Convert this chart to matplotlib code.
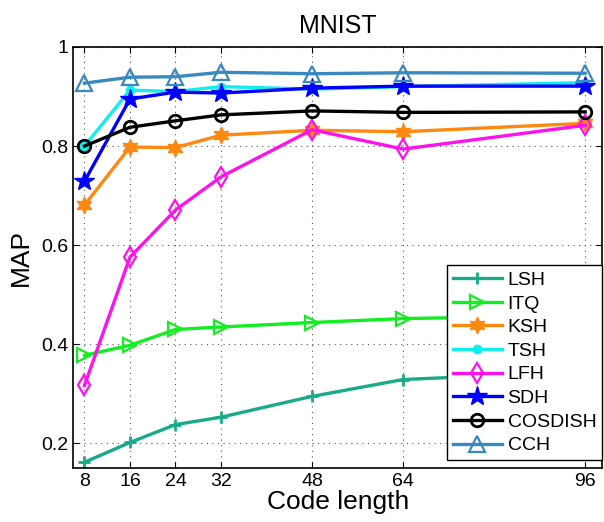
import numpy as np
import matplotlib.pyplot as plt

plt.rcParams['font.family'] = ['Liberation Sans', 'DejaVu Sans']

code_len = [8, 16, 24, 32, 48, 64, 96]
lsh = [0.162, 0.202, 0.238, 0.253, 0.295, 0.329, 0.345]
itq = [0.378, 0.398, 0.430, 0.435, 0.444, 0.452, 0.458]
ksh = [0.681, 0.798, 0.797, 0.822, 0.832, 0.829, 0.846]
tsh = [0.800, 0.913, 0.910, 0.920, 0.915, 0.920, 0.928]
lfh = [0.317, 0.576, 0.671, 0.738, 0.833, 0.794, 0.842]
sdh = [0.729, 0.895, 0.909, 0.907, 0.917, 0.921, 0.921]
cosdish = [0.800, 0.838, 0.851, 0.863, 0.871, 0.868, 0.869]
cch = [0.927, 0.939, 0.940, 0.949, 0.946, 0.948, 0.947]

fig = plt.figure(figsize=(6.04, 5.22), dpi=100)
ax = fig.add_axes([0.121, 0.103, 0.876, 0.807])

lw = 2.4
ax.plot(code_len, lsh, color='#19aa88', marker='+', ms=9, mew=2, lw=lw, label='LSH')
ax.plot(code_len, itq, color='#11ee22', marker='>', ms=10, mew=1.6, mfc='none', lw=lw, label='ITQ')
ax.plot(code_len, ksh, color='#ff8811', marker=(6, 1, 0), ms=12, lw=lw, label='KSH')
ax.plot(code_len, tsh, color='#11eeee', marker='o', ms=6, lw=lw, label='TSH')
ax.plot(code_len, lfh, color='#ff11ee', marker='d', ms=10, mew=1.6, mfc='none', lw=lw, label='LFH')
ax.plot(code_len, sdh, color='#0000ff', marker='*', ms=15, lw=lw, label='SDH')
ax.plot(code_len, cosdish, color='black', marker='o', ms=9, mew=2, mfc='none', lw=lw, label='COSDISH')
ax.plot(code_len, cch, color='#3a88c0', marker='^', ms=11, mew=1.6, mfc='none', lw=lw, label='CCH')

ax.set_xlim(6, 99)
ax.set_ylim(0.15, 1)
ax.set_xticks(code_len)
ax.set_yticks([0.2, 0.4, 0.6, 0.8, 1])
ax.set_yticklabels(['0.2', '0.4', '0.6', '0.8', '1'])
ax.tick_params(direction='in', top=True, right=True, labelsize=14, length=4)
ax.grid(True, linestyle=(0, (1, 4)), color='#555555', lw=0.8)
for s in ax.spines.values():
    s.set_linewidth(1.2)

ax.set_xlabel('Code length', fontsize=19, labelpad=0)
ax.set_ylabel('MAP', fontsize=19, labelpad=6)
ax.set_title('MNIST', fontsize=18, pad=10)

leg = ax.legend(loc='lower right', bbox_to_anchor=(1.0, 0.019), fontsize=14,
                handlelength=2.5, labelspacing=0.31, borderaxespad=0,
                fancybox=False, framealpha=1, edgecolor='black',
                borderpad=0.3, handletextpad=0.3)
leg.get_frame().set_linewidth(1.0)

plt.savefig('out.png', dpi=100)
